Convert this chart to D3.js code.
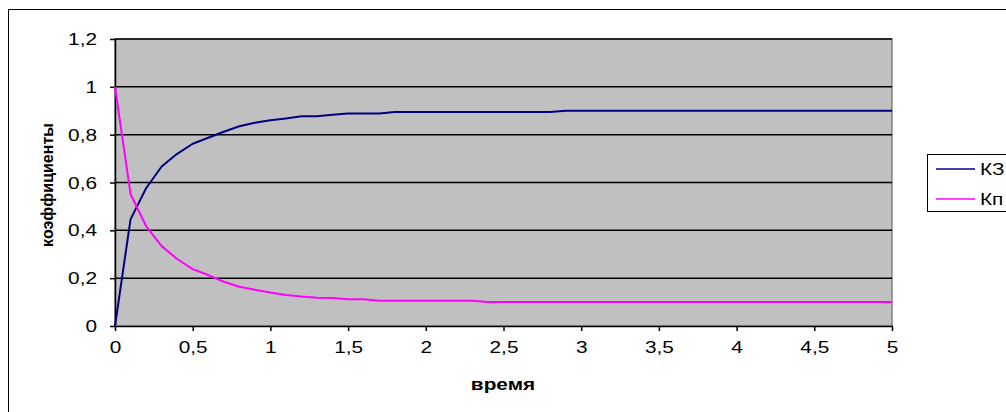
<!DOCTYPE html>
<html>
<head>
<meta charset="utf-8">
<script src="https://cdn.jsdelivr.net/npm/d3@7"></script>
<style>
  body { margin: 0; background: #fff; }
  text { font-family: Arial, "Liberation Sans", sans-serif; }
</style>
</head>
<body>
<div id="chart"></div>
<script>
// время (шаг 0,1)
const time = [0, 0.1, 0.2, 0.3, 0.4, 0.5, 0.6, 0.7, 0.8, 0.9,
  1, 1.1, 1.2, 1.3, 1.4, 1.5, 1.6, 1.7, 1.8, 1.9,
  2, 2.1, 2.2, 2.3, 2.4, 2.5, 2.6, 2.7, 2.8, 2.9,
  3, 3.1, 3.2, 3.3, 3.4, 3.5, 3.6, 3.7, 3.8, 3.9,
  4, 4.1, 4.2, 4.3, 4.4, 4.5, 4.6, 4.7, 4.8, 4.9, 5];

const kz = [0, 0.446, 0.576, 0.667, 0.72, 0.762, 0.787, 0.812, 0.835, 0.85,
  0.86, 0.868, 0.877, 0.877, 0.883, 0.889, 0.889, 0.889, 0.895, 0.895,
  0.895, 0.895, 0.895, 0.895, 0.895, 0.895, 0.895, 0.895, 0.895, 0.9,
  0.9, 0.9, 0.9, 0.9, 0.9, 0.9, 0.9, 0.9, 0.9, 0.9,
  0.9, 0.9, 0.9, 0.9, 0.9, 0.9, 0.9, 0.9, 0.9, 0.9, 0.9];

const kp = [1, 0.552, 0.418, 0.334, 0.28, 0.238, 0.213, 0.185, 0.164, 0.152,
  0.14, 0.13, 0.123, 0.118, 0.117, 0.112, 0.112, 0.106, 0.106, 0.106,
  0.106, 0.106, 0.106, 0.106, 0.1, 0.1, 0.1, 0.1, 0.1, 0.1,
  0.1, 0.1, 0.1, 0.1, 0.1, 0.1, 0.1, 0.1, 0.1, 0.1,
  0.1, 0.1, 0.1, 0.1, 0.1, 0.1, 0.1, 0.1, 0.1, 0.1, 0.1];

const xTicks = [0, 0.5, 1, 1.5, 2, 2.5, 3, 3.5, 4, 4.5, 5];
const yTicks = [0, 0.2, 0.4, 0.6, 0.8, 1, 1.2];

const series = [
  { name: 'КЗ', values: kz, color: '#000080' },
  { name: 'Кп', values: kp, color: '#ff00ff' }
];

const width = 1006, height = 412;
const plot = { left: 115, right: 892, top: 39, bottom: 326 };
const stretch = 1.3; // текст в исходнике растянут по горизонтали
const fmt = d => String(d).replace('.', ',');

const svg = d3.select('#chart').append('svg')
  .attr('width', width)
  .attr('height', height);

// рамка диаграммы
svg.append('rect')
  .attr('x', 8.5).attr('y', 9.5)
  .attr('width', 1100).attr('height', 500)
  .attr('fill', '#fff')
  .attr('stroke', '#000')
  .attr('stroke-width', 1);

const x = d3.scaleLinear().domain([0, 5]).range([plot.left, plot.right]);
const y = d3.scaleLinear().domain([0, 1.2]).range([plot.bottom, plot.top]);

// область построения
svg.append('rect')
  .attr('x', plot.left).attr('y', plot.top)
  .attr('width', plot.right - plot.left)
  .attr('height', plot.bottom - plot.top)
  .attr('fill', '#c0c0c0')
  .attr('stroke', '#808080')
  .attr('stroke-width', 1.5);

// линии сетки
svg.append('g')
  .selectAll('line')
  .data(yTicks.filter(d => d > 0))
  .enter()
  .append('line')
  .attr('x1', plot.left).attr('x2', plot.right)
  .attr('y1', d => y(d)).attr('y2', d => y(d))
  .attr('stroke', '#000')
  .attr('stroke-width', 1.5);

// оси
const xAxis = svg.append('g')
  .attr('transform', `translate(0,${plot.bottom})`)
  .call(d3.axisBottom(x).tickValues(xTicks).tickSize(5).tickSizeOuter(0).tickFormat(fmt));

const yAxis = svg.append('g')
  .attr('transform', `translate(${plot.left},0)`)
  .call(d3.axisLeft(y).tickValues(yTicks).tickSize(5).tickSizeOuter(0).tickFormat(fmt));

[xAxis, yAxis].forEach(g => {
  g.select('.domain').attr('stroke', '#000').attr('stroke-width', 1.5);
  g.selectAll('.tick line').attr('stroke', '#000').attr('stroke-width', 1.5);
  g.selectAll('.tick text')
    .attr('fill', '#000')
    .attr('font-size', 16)
    .attr('font-family', 'Arial, "Liberation Sans", sans-serif');
});

xAxis.selectAll('.tick text')
  .attr('y', 21)
  .attr('dy', '0.35em')
  .attr('transform', `scale(${stretch},1)`);

yAxis.selectAll('.tick text')
  .attr('x', -18 / stretch)
  .attr('dy', '0.35em')
  .attr('transform', `scale(${stretch},1)`);

// кривые
const line = d3.line()
  .x((d, i) => x(time[i]))
  .y(d => y(d));

svg.append('g')
  .selectAll('path')
  .data(series)
  .enter()
  .append('path')
  .attr('d', d => line(d.values))
  .attr('fill', 'none')
  .attr('stroke', d => d.color)
  .attr('stroke-width', 2)
  .attr('stroke-linejoin', 'round');

// подписи осей
svg.append('text')
  .attr('transform', `translate(503,390) scale(${stretch},1)`)
  .attr('text-anchor', 'middle')
  .attr('font-size', 16)
  .attr('font-weight', 'bold')
  .text('время');

svg.append('text')
  .attr('transform', 'translate(53,185) rotate(-90)')
  .attr('text-anchor', 'middle')
  .attr('font-size', 16)
  .attr('font-weight', 'bold')
  .text('коэффициенты');

// легенда
const legend = svg.append('g').attr('transform', 'translate(927,154)');
legend.append('rect')
  .attr('x', 0.5).attr('y', 0.5)
  .attr('width', 200).attr('height', 57)
  .attr('fill', '#fff')
  .attr('stroke', '#000')
  .attr('stroke-width', 1);

const items = legend.selectAll('.item')
  .data(series)
  .enter()
  .append('g')
  .attr('class', 'item')
  .attr('transform', (d, i) => `translate(0,${15 + i * 30})`);

items.append('line')
  .attr('x1', 9).attr('x2', 48)
  .attr('y1', 0).attr('y2', 0)
  .attr('stroke', d => d.color)
  .attr('stroke-width', 1.5);

items.append('text')
  .attr('transform', `translate(53,0) scale(${stretch},1)`)
  .attr('dy', '0.35em')
  .attr('font-size', 16)
  .text(d => d.name);
</script>
</body>
</html>
